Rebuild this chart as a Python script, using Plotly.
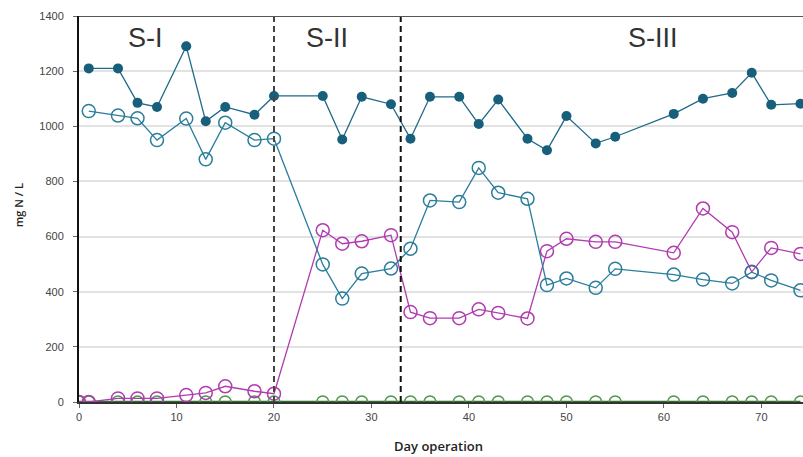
import plotly.graph_objects as go

# ---- data ----
days_tn = [1, 4, 6, 8, 11, 13, 15, 18, 20, 25, 27, 29, 32, 34, 36, 39, 41, 43, 46, 48,
           50, 53, 55, 61, 64, 67, 69, 71, 74]
tn_filled = [1210, 1210, 1085, 1070, 1290, 1018, 1070, 1042, 1110, 1110, 952, 1107, 1080,
             955, 1107, 1107, 1008, 1097, 955, 913, 1037, 938, 962, 1045, 1100, 1121, 1194,
             1078, 1082]

days_open = [1, 4, 6, 8, 11, 13, 15, 18, 20, 25, 27, 29, 32, 34, 36, 39, 41, 43, 46, 48,
             50, 53, 55, 61, 64, 67, 69, 71, 74]
teal_open = [1055, 1039, 1029, 950, 1028, 880, 1013, 950, 955, 499, 375, 466, 484, 556,
             731, 725, 849, 759, 737, 424, 448, 414, 483, 462, 444, 430, 471, 441, 405]

days_mag = [0, 1, 4, 6, 8, 11, 13, 15, 18, 20, 25, 27, 29, 32, 34, 36, 39, 41, 43, 46, 48,
            50, 53, 55, 61, 64, 67, 69, 71, 74]
magenta_open = [0, 0, 13, 13, 13, 25, 33, 57, 39, 30, 623, 574, 583, 605, 326, 304, 304,
                336, 323, 303, 547, 592, 581, 581, 541, 702, 616, 472, 559, 537]

days_green = [0, 1, 4, 6, 8, 13, 15, 18, 20, 25, 27, 29, 32, 34, 36, 39, 41, 43, 46, 48,
              50, 53, 55, 61, 64, 67, 69, 71, 74]
green_open = [0, 0, 0, 0, 0, 0, 0, 0, 0, 0, 0, 0, 0, 0, 0, 0, 0, 0, 0, 0,
              0, 0, 0, 0, 0, 0, 0, 0, 0]

stage_bounds = [20, 33]
stage_labels = ["S-I", "S-II", "S-III"]
stage_label_x = [6.8, 25.4, 58.9]
stage_label_y = 1322

x_ticks = [0, 10, 20, 30, 40, 50, 60, 70]
y_ticks = [0, 200, 400, 600, 800, 1000, 1200, 1400]

FONT = "Liberation Sans, Arial, sans-serif"

fig = go.Figure()

fig.add_trace(go.Scatter(
    x=days_green, y=green_open, mode="lines+markers",
    line=dict(color="#2f6f2f", width=2.5),
    marker=dict(symbol="circle-open", size=12, color="#4d9a4d", line=dict(width=1.5)),
    showlegend=False))

fig.add_trace(go.Scatter(
    x=days_mag, y=magenta_open, mode="lines+markers",
    line=dict(color="#b03cb0", width=1.3),
    marker=dict(symbol="circle-open", size=13, color="#b03cb0", line=dict(width=1.5)),
    showlegend=False))

fig.add_trace(go.Scatter(
    x=days_open, y=teal_open, mode="lines+markers",
    line=dict(color="#2a7d9b", width=1.3),
    marker=dict(symbol="circle-open", size=13, color="#2a7d9b", line=dict(width=1.5)),
    showlegend=False))

fig.add_trace(go.Scatter(
    x=days_tn, y=tn_filled, mode="lines+markers",
    line=dict(color="#1f6a88", width=1.3),
    marker=dict(symbol="circle", size=10, color="#185f7c"),
    showlegend=False))

for xb, dash_col in zip(stage_bounds, ["#444444", "#111111"]):
    fig.add_shape(type="line", x0=xb, x1=xb, y0=0, y1=1400, xref="x", yref="y",
                  line=dict(color=dash_col, width=2, dash="6px,4px"), layer="above")

# top frame line
fig.add_shape(type="line", x0=0, x1=1, xref="paper", y0=1400, y1=1400, yref="y",
              line=dict(color="#555555", width=2), layer="above")

for lx, lt in zip(stage_label_x, stage_labels):
    fig.add_annotation(x=lx, y=stage_label_y, text=lt, showarrow=False,
                       font=dict(family=FONT, size=27, color="#333333"))

fig.add_annotation(x=18, xref="paper", xanchor="center", y=0.51, yref="paper",
                   text="mg N / L", textangle=-90, showarrow=False,
                   font=dict(family="Open Sans, sans-serif", size=11, color="#222222", weight=600))
fig.add_annotation(x=0.496, xref="paper", y=-0.113, yref="paper", text="Day operation",
                   showarrow=False, yanchor="middle",
                   font=dict(family="Open Sans, sans-serif", size=13, color="#222222", weight=600))

# place y title in pixel terms: convert desired pixel center (18 px) to paper coords
plot_w = 803 - 79
fig.layout.annotations[-2].x = (18 - 79) / plot_w

fig.update_layout(
    width=803, height=457,
    margin=dict(l=79, r=0, t=16, b=55),
    paper_bgcolor="white", plot_bgcolor="white",
    font=dict(family=FONT, size=11, color="#444444"),
)
fig.update_xaxes(range=[0, 74.26], tickvals=x_ticks, ticks="outside", ticklen=4,
                 tickcolor="#666666", showline=True, linecolor="#333333", linewidth=1.5,
                 showgrid=False, zeroline=False, tickfont=dict(size=11, color="#444444"))
fig.update_yaxes(range=[0, 1400], tickvals=y_ticks, ticks="outside", ticklen=4,
                 tickcolor="#666666", ticklabelstandoff=7,
                 showline=True, linecolor="#111111", linewidth=2,
                 showgrid=True, gridcolor="#e2e2e2", gridwidth=2, zeroline=False,
                 tickfont=dict(size=11, color="#444444"))

fig.write_html("out.html")
